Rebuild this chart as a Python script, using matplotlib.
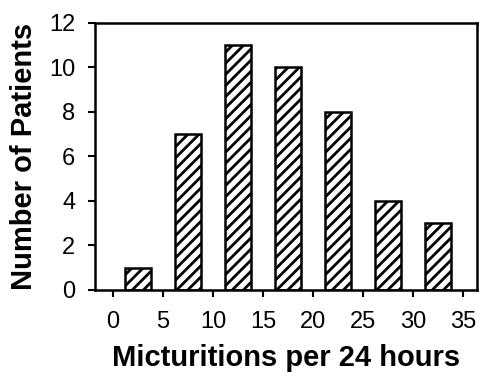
import matplotlib
matplotlib.use("Agg")
import matplotlib.pyplot as plt

bin_centers = [2.5, 7.5, 12.5, 17.5, 22.5, 27.5, 32.5]
patients = [1, 7, 11, 10, 8, 4, 3]
x_ticks = [0, 5, 10, 15, 20, 25, 30, 35]
y_ticks = [0, 2, 4, 6, 8, 10, 12]

plt.rcParams["font.family"] = ["Liberation Sans", "DejaVu Sans"]
plt.rcParams["hatch.linewidth"] = 2.0

fig = plt.figure(figsize=(4.79, 3.77), dpi=100)
ax = fig.add_axes([0.198, 0.231, 0.798, 0.708])

ax.bar(bin_centers, patients, width=2.55, color="white", edgecolor="black",
       linewidth=1.8, hatch="///", zorder=2)

ax.set_xlim(-1.8, 36.4)
ax.set_ylim(0, 12)
ax.set_xticks(x_ticks)
ax.set_yticks(y_ticks)
ax.tick_params(axis="both", labelsize=17, width=1.5, length=5, direction="out")
ax.tick_params(axis="x", pad=10)
ax.tick_params(axis="y", pad=9)
for s in ax.spines.values():
    s.set_linewidth(1.8)

ax.set_xlabel("Micturitions per 24 hours", fontsize=21, fontweight="bold")
ax.set_ylabel("Number of Patients", fontsize=21, fontweight="bold")
ax.xaxis.set_label_coords(0.5, -0.255)
ax.yaxis.set_label_coords(-0.186, 0.5)
ax.xaxis.label.set_va("center")
ax.yaxis.label.set_va("center")

fig.savefig("out.png", dpi=100)
